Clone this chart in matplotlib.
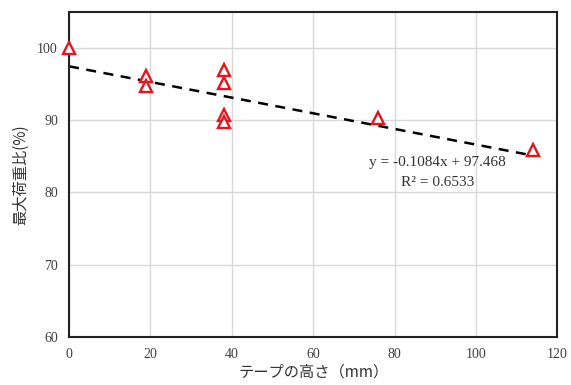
import matplotlib
matplotlib.use("Agg")
import matplotlib.pyplot as plt
import numpy as np

# tape height (mm) vs max load ratio (%)
heights = [0, 19, 19, 38, 38, 38, 38, 76, 114]
load_ratio = [100.0, 96.1, 94.8, 97.0, 95.1, 90.7, 89.8, 90.3, 85.9]

slope = -0.1084
intercept = 97.468
r2 = 0.6533

xticks = [0, 20, 40, 60, 80, 100, 120]
yticks = [60, 70, 80, 90, 100]

fig = plt.figure(figsize=(5.71, 3.85), dpi=100)
ax = fig.add_axes([0.121, 0.125, 0.855, 0.844])

xs = np.array([min(heights), max(heights)])
ax.plot(xs, slope * xs + intercept, color="black", ls=(0, (4, 3)), lw=1.8, zorder=2)
ax.plot(heights, load_ratio, ls="none", marker="^", ms=9, mfc="white",
        mec="#e8141c", mew=1.7, zorder=3, clip_on=False)

ax.set_xlim(0, 120)
ax.set_ylim(60, 105)
ax.set_xticks(xticks)
ax.set_yticks(yticks)
ax.grid(True, color="#d9d9d9", lw=1)
ax.set_axisbelow(True)
for s in ax.spines.values():
    s.set_linewidth(1.5)
    s.set_color("#222222")
ax.tick_params(length=0, pad=8, labelsize=10, labelcolor="#404040")
for lab in ax.get_xticklabels() + ax.get_yticklabels():
    lab.set_family("Liberation Serif")

ax.text(90.5, 84.2, f"y = {slope}x + {intercept}", ha="center", va="center",
        family="Liberation Serif", fontsize=11, color="#333333")
ax.text(90.5, 81.4, f"R² = {r2}", ha="center", va="center",
        family="Liberation Serif", fontsize=11, color="#333333")

ax.set_xlabel("テープの高さ（mm）", family=["Noto Sans CJK JP", "DejaVu Sans"],
              fontsize=11, color="#333333", labelpad=2)
ax.set_ylabel("最大荷重比(%)", family=["Noto Sans CJK JP", "DejaVu Sans"],
              fontsize=11, color="#333333", labelpad=6)

fig.savefig("out.png", dpi=100)
